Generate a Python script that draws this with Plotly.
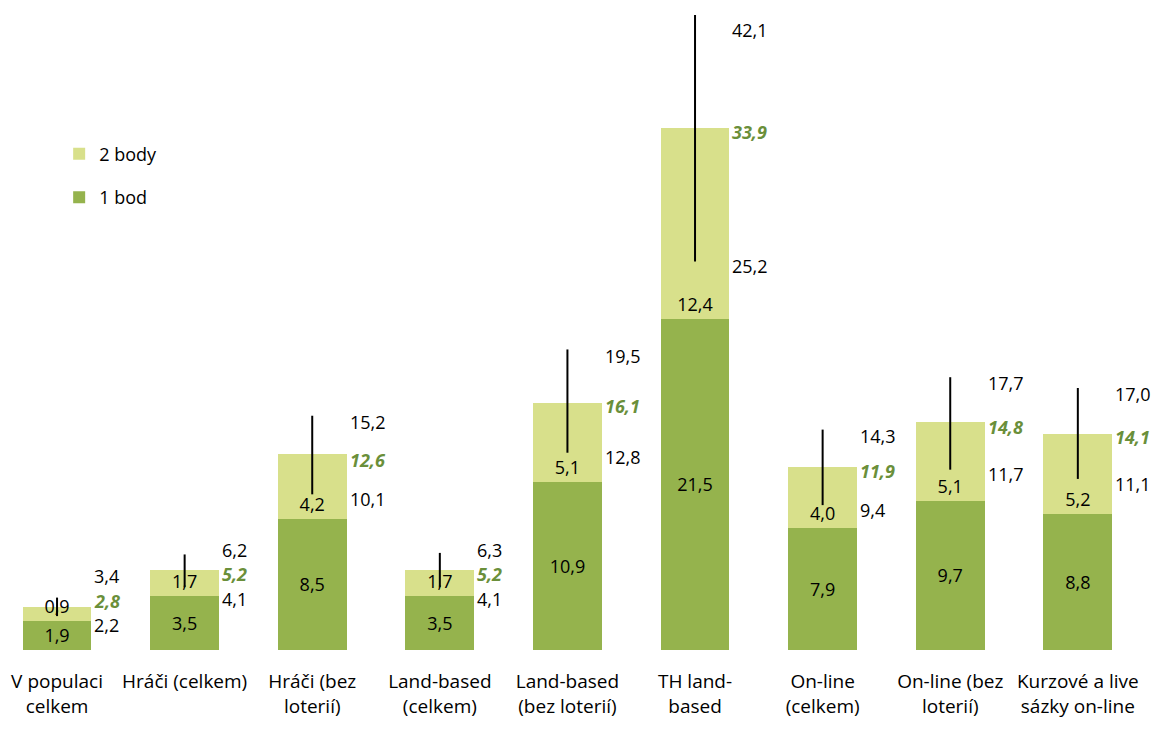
import plotly.graph_objects as go

categories = ['V populaci<br>celkem', 'Hráči (celkem)', 'Hráči (bez<br>loterií)',
              'Land-based<br>(celkem)', 'Land-based<br>(bez loterií)', 'TH land-<br>based',
              'On-line<br>(celkem)', 'On-line (bez<br>loterií)', 'Kurzové a live<br>sázky on-line']
bod1 = [1.9, 3.5, 8.5, 3.5, 10.9, 21.5, 7.9, 9.7, 8.8]
body2 = [0.9, 1.7, 4.2, 1.7, 5.1, 12.4, 4.0, 5.1, 5.2]
total = [2.8, 5.2, 12.6, 5.2, 16.1, 33.9, 11.9, 14.8, 14.1]
ci_low = [2.2, 4.1, 10.1, 4.1, 12.8, 25.2, 9.4, 11.7, 11.1]
ci_high = [3.4, 6.2, 15.2, 6.3, 19.5, 42.1, 14.3, 17.7, 17.0]

DARK = '#95B34D'
LIGHT = '#D8E08B'
LABEL_GREEN = '#6A8F3A'
FONT = 'Open Sans'
NUM_SIZE = 18
YMAX = 41.2
GAP = 1.6  # min vertical gap between side labels (data units)

x = list(range(len(categories)))


def fmt(v):
    return f'{v:.1f}'.replace('.', ',')


fig = go.Figure()
fig.add_trace(go.Bar(
    x=x, y=bod1, name='1 bod', marker=dict(color=DARK, line=dict(width=0)), width=0.54,
    text=[fmt(v) for v in bod1], textposition='inside', insidetextanchor='middle',
    textfont=dict(color='black', size=NUM_SIZE, family=FONT),
    legendgroup='b', legendrank=2
))
fig.add_trace(go.Bar(
    x=x, y=body2, name='2 body', marker=dict(color=LIGHT, line=dict(width=0)), width=0.54,
    text=[fmt(v) for v in body2], textposition='inside', insidetextanchor='start',
    textfont=dict(color='black', size=NUM_SIZE, family=FONT),
    legendgroup='a', legendrank=1
))

# confidence interval lines
fig.add_trace(go.Scatter(
    x=x, y=total, mode='markers', marker=dict(size=1, opacity=0),
    error_y=dict(type='data', symmetric=False,
                 array=[h - t for h, t in zip(ci_high, total)],
                 arrayminus=[t - l for t, l in zip(total, ci_low)],
                 color='black', thickness=2, width=0),
    showlegend=False, hoverinfo='skip'
))

# labels to the right of each bar
annotations = []
for i, (t, lo, hi) in enumerate(zip(total, ci_low, ci_high)):
    tl = t - 0.3
    ll = max(min(lo - 0.3, tl - GAP), GAP)
    tl = max(tl, ll + GAP)
    ul = min(max(hi - 0.4, tl + GAP), YMAX - 1.0)
    for yy, txt, col, bold in [(ul, fmt(hi), 'black', False),
                               (tl, fmt(t), LABEL_GREEN, True),
                               (ll, fmt(lo), 'black', False)]:
        label = f'<b><i>{txt}</i></b>' if bold else txt
        annotations.append(dict(
            x=i + 0.27, y=yy, xref='x', yref='y', text=label, showarrow=False,
            xanchor='left', yanchor='middle', xshift=1,
            font=dict(color=col, size=NUM_SIZE, family=FONT)
        ))

fig.update_layout(
    barmode='stack',
    width=1160, height=731,
    margin=dict(l=0, r=0, t=15, b=81),
    plot_bgcolor='white', paper_bgcolor='white',
    font=dict(family=FONT, size=NUM_SIZE, color='black'),
    uniformtext=dict(minsize=NUM_SIZE, mode='show'),
    annotations=annotations,
    legend=dict(x=0.051, y=0.81, xanchor='left', yanchor='top',
                traceorder='grouped', tracegroupgap=17,
                font=dict(size=NUM_SIZE, family=FONT), bgcolor='rgba(0,0,0,0)'),
    xaxis=dict(range=[-0.447, 8.644], tickvals=x, ticktext=categories,
               showgrid=False, zeroline=False, showline=False, ticks='',
               ticklabelstandoff=18,
               tickfont=dict(size=19, family=FONT)),
    yaxis=dict(range=[0, YMAX], visible=False, showgrid=False, zeroline=False),
    showlegend=True,
)

fig.write_html('out.html', config={'displayModeBar': False},
               post_script="document.body.style.margin='0';")
